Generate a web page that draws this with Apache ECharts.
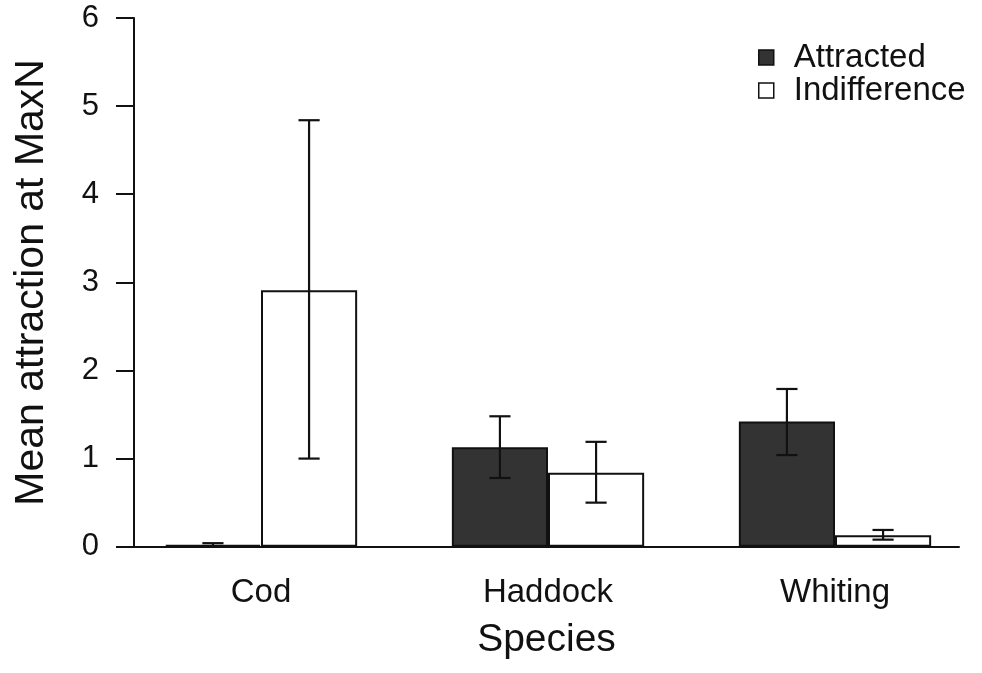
<!DOCTYPE html>
<html>
<head>
<meta charset="utf-8">
<script src="https://cdn.jsdelivr.net/npm/echarts@6/dist/echarts.min.js"></script>
<style>
html,body{margin:0;padding:0;background:#fff;}
#chart{width:982px;height:673px;}
</style>
</head>
<body>
<div id="chart"></div>
<script>
var categories = ['Cod', 'Haddock', 'Whiting'];
var attracted = [0.02, 1.13, 1.42];
var attractedLow = [0.0, 0.78, 1.04];
var attractedHigh = [0.04, 1.48, 1.79];
var indifference = [2.91, 0.84, 0.13];
var indifferenceLow = [1.0, 0.50, 0.08];
var indifferenceHigh = [4.84, 1.19, 0.19];
var yTicks = [0, 1, 2, 3, 4, 5, 6];

var FONT = 'Liberation Sans, Arial, sans-serif';
var INK = '#111111';
var GAP = 0.33;

function errData(lo, hi) {
  return categories.map(function (c, i) { return [i, lo[i], hi[i]]; });
}
function errRender(sign) {
  return function (params, api) {
    var band = api.size([1, 0])[0];
    var bw = band * (1 - GAP) / 2;
    var idx = api.value(0);
    var pLo = api.coord([idx, api.value(1)]);
    var pHi = api.coord([idx, api.value(2)]);
    var x = pLo[0] + sign * bw / 2;
    var cap = bw * 0.11;
    var st = { stroke: INK, lineWidth: 2.2 };
    return {
      type: 'group',
      children: [
        { type: 'line', shape: { x1: x, y1: pLo[1], x2: x, y2: pHi[1] }, style: st },
        { type: 'line', shape: { x1: x - cap, y1: pHi[1], x2: x + cap, y2: pHi[1] }, style: st },
        { type: 'line', shape: { x1: x - cap, y1: pLo[1], x2: x + cap, y2: pLo[1] }, style: st }
      ]
    };
  };
}

var chart = echarts.init(document.getElementById('chart'));
chart.setOption({
  backgroundColor: '#ffffff',
  animation: false,
  textStyle: { fontFamily: FONT },
  legend: {
    orient: 'vertical',
    left: 753,
    top: 36,
    itemWidth: 15,
    itemHeight: 15,
    itemGap: 0,
    icon: 'rect',
    textStyle: { fontFamily: FONT, fontSize: 33, color: INK, lineHeight: 30, padding: [0, 0, 0, 15] },
    data: [
      { name: 'Attracted', itemStyle: { color: '#333333', borderColor: INK, borderWidth: 1.5 } },
      { name: 'Indifference', itemStyle: { color: '#ffffff', borderColor: INK, borderWidth: 1.5 } }
    ]
  },
  grid: [
    { left: 117.5, right: 3.5, top: 18, bottom: 126.3 },
    { left: 134, right: 23, top: 18, bottom: 126.3 }
  ],
  xAxis: [
    {
      type: 'category', gridIndex: 0, data: categories,
      axisLine: { show: false }, axisTick: { show: false },
      axisLabel: { fontSize: 33, color: INK, margin: 30, fontFamily: FONT }
    },
    {
      type: 'value', gridIndex: 1, min: 0, max: 1,
      axisLine: { show: true, lineStyle: { color: INK, width: 2 } },
      axisTick: { show: false }, axisLabel: { show: false }, splitLine: { show: false },
      name: 'Species', nameLocation: 'middle', nameGap: 74,
      nameTextStyle: { fontSize: 39, color: INK, fontFamily: FONT }
    }
  ],
  yAxis: [
    {
      type: 'value', gridIndex: 0, min: 0, max: 6, interval: 1, show: false
    },
    {
      type: 'value', gridIndex: 1, min: yTicks[0], max: yTicks[yTicks.length - 1], interval: 1,
      axisLine: { show: true, lineStyle: { color: INK, width: 2 } },
      axisTick: { show: true, length: 18, lineStyle: { color: INK, width: 2 } },
      axisLabel: { fontSize: 31, color: INK, margin: 35, fontFamily: FONT },
      splitLine: { show: false },
      name: 'Mean attraction at MaxN', nameLocation: 'middle', nameGap: 82,
      nameTextStyle: { fontSize: 41, color: INK, fontFamily: FONT }
    }
  ],
  series: [
    {
      name: 'Attracted', type: 'bar', xAxisIndex: 0, yAxisIndex: 0,
      data: attracted, barGap: '0%', barCategoryGap: '33%',
      itemStyle: { color: '#333333', borderColor: INK, borderWidth: 2 }
    },
    {
      name: 'Indifference', type: 'bar', xAxisIndex: 0, yAxisIndex: 0,
      data: indifference, barGap: '0%', barCategoryGap: '33%',
      itemStyle: { color: '#ffffff', borderColor: INK, borderWidth: 2 }
    },
    {
      name: 'errA', type: 'custom', xAxisIndex: 0, yAxisIndex: 0,
      renderItem: errRender(-1), data: errData(attractedLow, attractedHigh), z: 5
    },
    {
      name: 'errI', type: 'custom', xAxisIndex: 0, yAxisIndex: 0,
      renderItem: errRender(1), data: errData(indifferenceLow, indifferenceHigh), z: 5
    }
  ]
});
</script>
</body>
</html>
